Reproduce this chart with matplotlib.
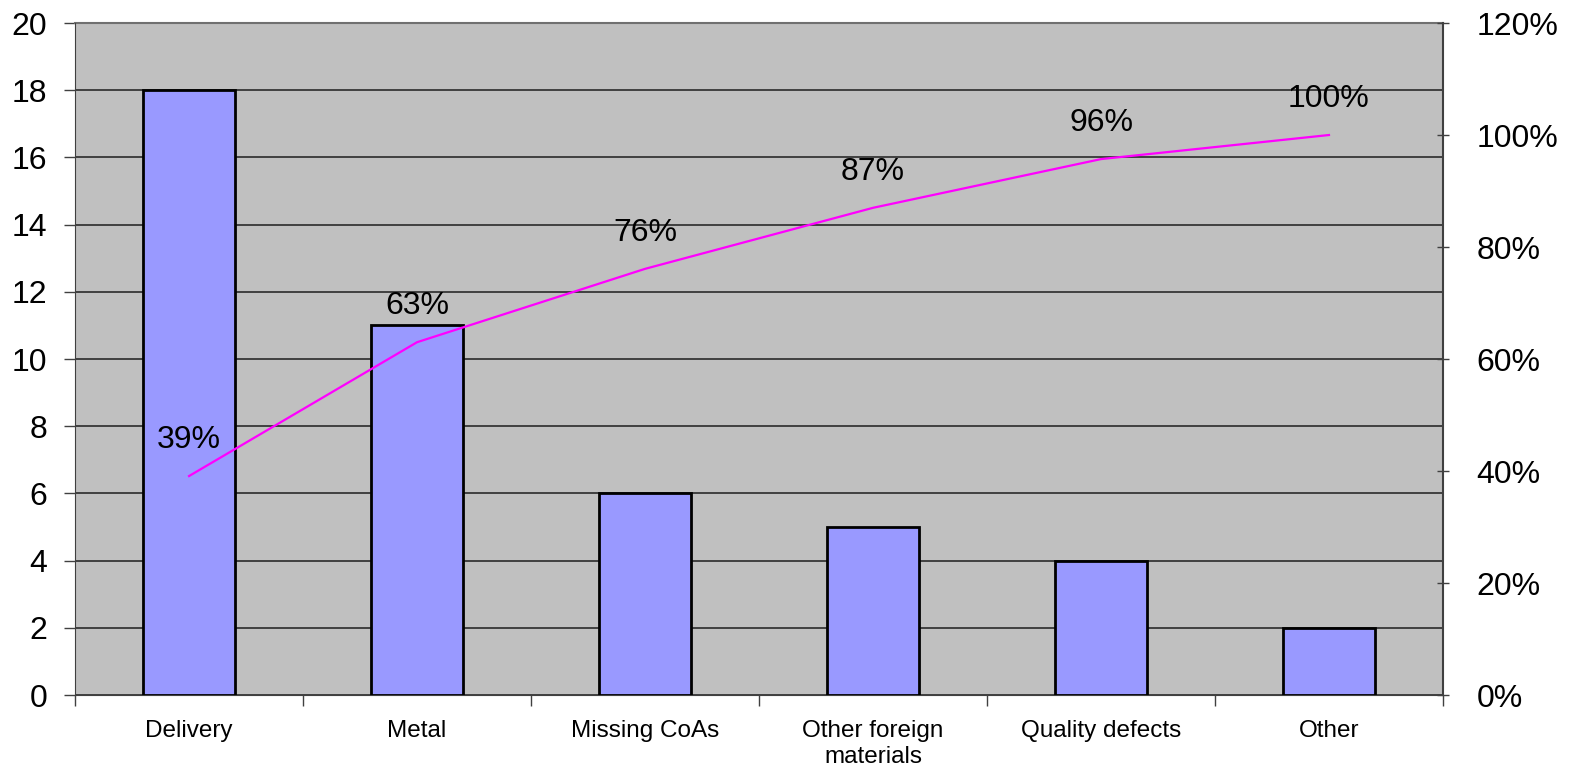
import matplotlib
matplotlib.use("Agg")
import matplotlib.pyplot as plt
from matplotlib.ticker import MultipleLocator, FixedLocator, NullFormatter

plt.rcParams['font.family'] = ['Liberation Sans', 'DejaVu Sans']

categories = ['Delivery', 'Metal', 'Missing CoAs', 'Other foreign\nmaterials',
              'Quality defects', 'Other']
counts = [18, 11, 6, 5, 4, 2]
cum_pct = [39.1, 63.0, 76.1, 87.0, 95.7, 100.0]
pct_labels = ['39%', '63%', '76%', '87%', '96%', '100%']

fig = plt.figure(figsize=(15.7, 7.7), dpi=100)
ax = fig.add_axes([0.0478, 0.0974, 0.8713, 0.8727])
ax.set_facecolor('#C0C0C0')

x = list(range(len(categories)))
ax.bar(x, counts, width=0.4, color='#9999FF', edgecolor='black', linewidth=2, zorder=3)

ax.set_xlim(-0.5, len(categories) - 0.5)
ax.set_ylim(0, 20)
ax.yaxis.set_major_locator(MultipleLocator(2))
ax.grid(axis='y', color='#2a2a2a', linewidth=1.2, zorder=1)
ax.set_axisbelow(True)
ax.tick_params(axis='y', labelsize=23, length=8, width=1, color='#404040', pad=12)

# category labels centered, tick marks between categories
ax.set_xticks(x)
ax.set_xticklabels(categories, fontsize=17.5, linespacing=1.25)
ax.tick_params(axis='x', which='major', length=0, pad=18)
ax.xaxis.set_minor_locator(FixedLocator([i - 0.5 for i in range(len(categories) + 1)]))
ax.xaxis.set_minor_formatter(NullFormatter())
ax.tick_params(axis='x', which='minor', length=8, width=1, color='#404040')

for side in ['top', 'right']:
    ax.spines[side].set_visible(False)
ax.spines['left'].set_color('#404040')
ax.spines['bottom'].set_color('#404040')

ax2 = ax.twinx()
ax2.plot(x, cum_pct, color='#FF00FF', linewidth=1.6, zorder=4)
ax2.set_ylim(0, 120)
ax2.yaxis.set_major_locator(MultipleLocator(20))
ax2.yaxis.set_major_formatter(matplotlib.ticker.FuncFormatter(lambda v, p: '%d%%' % v))
ax2.tick_params(axis='y', labelsize=23, length=8, width=1, direction='inout',
                color='#404040', pad=20)
for side in ['top', 'left', 'bottom']:
    ax2.spines[side].set_visible(False)
ax2.spines['right'].set_color('#404040')
ax2.spines['right'].set_linewidth(1.5)

for xi, yi, lab in zip(x, cum_pct, pct_labels):
    ax2.annotate(lab, (xi, yi), xytext=(0, 36), textcoords='offset pixels',
                 ha='center', va='center', fontsize=23)

ax.plot([-0.5, 5.5], [20, 20], color='#707070', linewidth=1.5, zorder=2, clip_on=False)

fig.savefig('out.png', dpi=100)
